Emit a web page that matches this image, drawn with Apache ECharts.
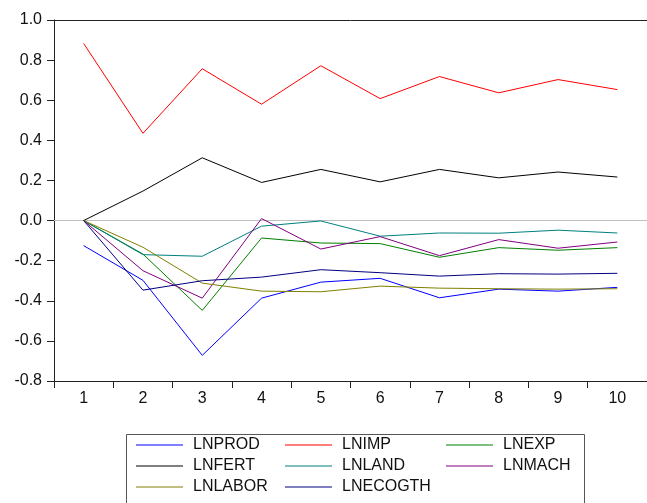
<!DOCTYPE html>
<html>
<head>
<meta charset="utf-8">
<script src="https://cdn.jsdelivr.net/npm/echarts@6/dist/echarts.min.js"></script>
<style>
  html, body { margin: 0; padding: 0; background: #fff; }
  #chart { width: 647px; height: 503px; }
</style>
</head>
<body>
<div id="chart"></div>
<script>
// Impulse responses over ten periods
var periods = ['1', '2', '3', '4', '5', '6', '7', '8', '9', '10'];

var lnprod   = [-0.125, -0.298, -0.672, -0.387, -0.307, -0.288, -0.385, -0.342, -0.352, -0.333];
var lnimp    = [0.883, 0.435, 0.757, 0.580, 0.772, 0.608, 0.718, 0.637, 0.703, 0.653];
var lnexp    = [0.000, -0.167, -0.448, -0.087, -0.112, -0.115, -0.183, -0.135, -0.148, -0.135];
var lnfert   = [0.000, 0.147, 0.313, 0.190, 0.255, 0.193, 0.255, 0.213, 0.242, 0.217];
var lnland   = [0.000, -0.170, -0.178, -0.028, -0.002, -0.078, -0.062, -0.063, -0.048, -0.062];
var lnmach   = [0.000, -0.250, -0.387, 0.010, -0.142, -0.080, -0.175, -0.095, -0.138, -0.107];
var lnlabor  = [0.000, -0.133, -0.312, -0.352, -0.355, -0.327, -0.337, -0.340, -0.342, -0.340];
var lnecogth = [0.000, -0.347, -0.300, -0.282, -0.245, -0.260, -0.277, -0.265, -0.267, -0.263];

var yTicks = { min: -0.8, max: 1.0, interval: 0.2 };

var seriesDefs = [
  { name: 'LNPROD',   data: lnprod,   color: '#0000FF' },
  { name: 'LNIMP',    data: lnimp,    color: '#FF0000' },
  { name: 'LNEXP',    data: lnexp,    color: '#008000' },
  { name: 'LNFERT',   data: lnfert,   color: '#000000' },
  { name: 'LNLAND',   data: lnland,   color: '#008080' },
  { name: 'LNMACH',   data: lnmach,   color: '#800080' },
  { name: 'LNLABOR',  data: lnlabor,  color: '#808000' },
  { name: 'LNECOGTH', data: lnecogth, color: '#000080' }
];

var font = 'Liberation Sans, Arial, sans-serif';
var axisColor = '#222';

var series = seriesDefs.map(function (d, i) {
  var s = {
    name: d.name,
    type: 'line',
    data: d.data,
    symbol: 'none',
    smooth: false,
    lineStyle: { color: d.color, width: 1 },
    itemStyle: { color: d.color },
    z: 3
  };
  if (i === 0) {
    // thin grey reference line at zero
    s.markLine = {
      silent: true,
      symbol: 'none',
      label: { show: false },
      lineStyle: { color: '#c0c0c0', width: 1, type: 'solid' },
      data: [{ yAxis: 0 }],
      z: 1
    };
  }
  return s;
});

function legendColumn(left, names) {
  return {
    orient: 'vertical',
    left: left,
    top: 437,
    padding: 0,
    itemGap: 5,
    itemWidth: 47,
    itemHeight: 1,
    icon: 'rect',
    data: names,
    textStyle: { fontFamily: font, fontSize: 16, color: '#111', lineHeight: 16, padding: [0, 0, 0, 5] }
  };
}

var chart = echarts.init(document.getElementById('chart'), null, { renderer: 'canvas' });
chart.setOption({
  animation: false,
  backgroundColor: '#fff',
  grid: { left: 54, top: 20, width: 600, height: 361, containLabel: false },
  xAxis: [
    {
      type: 'category',
      data: periods,
      boundaryGap: true,
      position: 'bottom',
      axisLine: { show: true, onZero: false, lineStyle: { color: axisColor, width: 1 } },
      axisTick: { show: true, length: 7, inside: false, lineStyle: { color: axisColor } },
      axisLabel: { fontFamily: font, fontSize: 16, color: '#111', margin: 10 },
      splitLine: { show: false }
    },
    {
      type: 'category',
      data: periods,
      position: 'top',
      axisLine: { show: true, onZero: false, lineStyle: { color: axisColor, width: 1 } },
      axisTick: { show: false },
      axisLabel: { show: false },
      splitLine: { show: false }
    }
  ],
  yAxis: {
    type: 'value',
    min: yTicks.min,
    max: yTicks.max,
    interval: yTicks.interval,
    axisLine: { show: true, onZero: false, lineStyle: { color: axisColor, width: 1 } },
    axisTick: { show: true, length: 7, inside: false, lineStyle: { color: axisColor } },
    axisLabel: {
      fontFamily: font, fontSize: 16, color: '#111', margin: 12,
      formatter: function (v) { return v.toFixed(1); }
    },
    splitLine: { show: false }
  },
  legend: [
    legendColumn(136, ['LNPROD', 'LNFERT', 'LNLABOR']),
    legendColumn(285, ['LNIMP', 'LNLAND', 'LNECOGTH']),
    legendColumn(446, ['LNEXP', 'LNMACH'])
  ],
  graphic: [
    {
      type: 'rect',
      left: 124,
      top: 432,
      shape: { width: 458, height: 90 },
      style: { fill: 'none', stroke: '#555', lineWidth: 1 },
      silent: true
    }
  ],
  series: series
});
</script>
</body>
</html>
